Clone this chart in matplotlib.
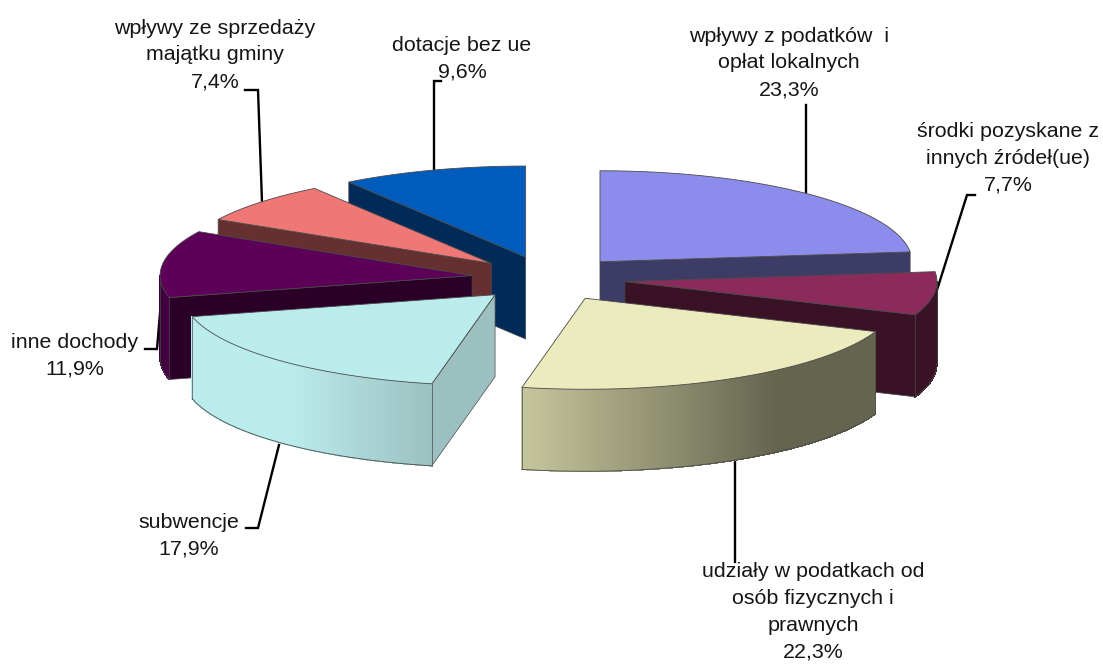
import numpy as np
import matplotlib.pyplot as plt
from matplotlib.collections import PolyCollection
from matplotlib.colors import to_rgb

plt.rcParams['font.family'] = ['Liberation Sans', 'DejaVu Sans']

# Data
values = [23.3, 7.7, 22.3, 17.9, 11.9, 7.4, 9.6]
labels = ['wpływy z podatków  i\nopłat lokalnych\n23,3%',
          'środki pozyskane z\ninnych źródeł(ue)\n7,7%',
          'udziały w podatkach od\nosób fizycznych i\nprawnych\n22,3%',
          'subwencje\n17,9%',
          'inne dochody\n11,9%',
          'wpływy ze sprzedaży\nmajątku gminy\n7,4%',
          'dotacje bez ue\n9,6%']
label_pos = [(789, 63), (1008, 158), (813, 612), (189, 536), (75, 356), (215, 55), (462, 59)]
leaders = [[(806, 105), (806, 192)],
           [(975, 195), (967, 195), (937, 290)],
           [(735, 458), (735, 562)],
           [(246, 528), (258, 528), (279, 445)],
           [(145, 349), (157, 349), (164, 265)],
           [(245, 90), (258, 90), (262, 202)],
           [(441, 81), (434, 81), (434, 170)]]
top_colors = ['#8c8cec', '#8c2a5c', '#ebebbd', '#bbecec', '#5c0058', '#ef7775', '#005cbc']
radial_colors = ['#3c3c66', '#3a1226', '#65654f', '#9cc0c0', '#2a0028', '#663030', '#002a58']
# outer wall shading: colour stops at fraction of the arc width
wall_stops = {0: [(0, '#3c3c66'), (1, '#3c3c66')],
              1: [(0, '#3a1226'), (1, '#3a1226')],
              2: [(0, '#c6c69e'), (0.72, '#65654f'), (1, '#65654f')],
              3: [(0, '#bbecec'), (0.4, '#bbecec'), (1, '#9cc0c0')],
              4: [(0, '#3a0038'), (1, '#4a0048')],
              5: [(0, '#663030'), (1, '#663030')],
              6: [(0, '#002a58'), (1, '#002a58')]}

# Projection of the flattened pie, in pixels
cx, cy = 548.5, 278.5
rx, ry = 312, 91
depth = 82
explode = 0.247
edge = '#4a4a4a'

fig = plt.figure(figsize=(11.03, 6.64), dpi=100)
ax = fig.add_axes([0, 0, 1, 1])
ax.set_xlim(0, 1103)
ax.set_ylim(664, 0)
ax.axis('off')

# Leaders go first so the slices cover their ends
for pts in leaders:
    ax.plot(*zip(*pts), color='black', lw=1.7, solid_joinstyle='miter', zorder=1)

edges = np.cumsum([0] + values) / sum(values) * 2 * np.pi
mids = (edges[:-1] + edges[1:]) / 2

# Paint back to front
for n, i in enumerate(np.argsort(-np.cos(mids))):
    z = 2 + n
    ox = cx + explode * rx * np.sin(mids[i])
    oy = cy - explode * ry * np.cos(mids[i])
    t = np.linspace(edges[i], edges[i + 1], 120)
    px = ox + rx * np.sin(t)
    py = oy - ry * np.cos(t)

    # radial walls, only those facing the viewer
    visible = []
    if np.sin(t[0]) < 0:
        visible.append(0)
    if np.sin(t[-1]) > 1e-6:
        visible.append(-1)
    for k in visible:
        wall = [(ox, oy), (px[k], py[k]), (px[k], py[k] + depth), (ox, oy + depth)]
        ax.fill(*zip(*wall), facecolor=radial_colors[i], edgecolor=edge, lw=0.5, zorder=z)

    # outer wall, only the part facing the viewer
    front = np.cos(t) <= 0
    if front.sum() > 1:
        fx, fy = px[front], py[front]
        stops = wall_stops[i]
        pos = [s[0] for s in stops]
        rgb = np.array([to_rgb(s[1]) for s in stops])
        quads, colors = [], []
        for a in range(len(fx) - 1):
            quads.append([(fx[a], fy[a]), (fx[a + 1], fy[a + 1]),
                          (fx[a + 1], fy[a + 1] + depth), (fx[a], fy[a] + depth)])
            f = (fx[a] - fx.min()) / (fx.max() - fx.min())
            colors.append([np.interp(f, pos, rgb[:, c]) for c in range(3)])
        ax.add_collection(PolyCollection(quads, facecolors=colors, edgecolors=colors,
                                         linewidths=0.5, antialiased=False, zorder=z))
        ax.plot(fx, fy + depth, color=edge, lw=0.6, zorder=z)
        ax.plot([fx[0], fx[0]], [fy[0], fy[0] + depth], color=edge, lw=0.5, zorder=z)
        ax.plot([fx[-1], fx[-1]], [fy[-1], fy[-1] + depth], color=edge, lw=0.5, zorder=z)

    # top
    ax.fill(np.r_[ox, px], np.r_[oy, py], facecolor=top_colors[i], edgecolor=edge, lw=0.6, zorder=z)

for text, (x, y) in zip(labels, label_pos):
    ax.text(x, y, text, ha='center', va='center', fontsize=15.4, color='#151515',
            linespacing=1.52, zorder=20)

plt.savefig('out.png', dpi=100)
